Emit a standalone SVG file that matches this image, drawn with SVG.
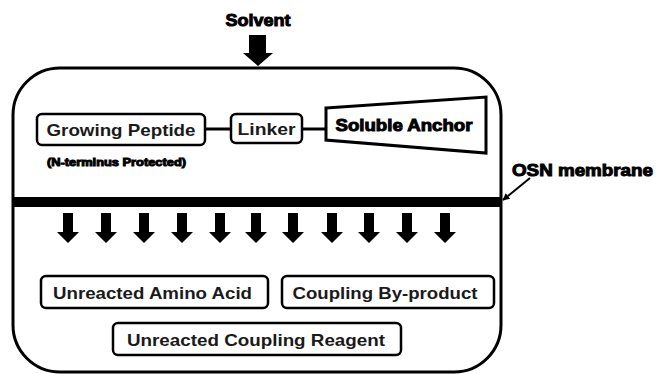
<svg xmlns="http://www.w3.org/2000/svg" width="656" height="374" viewBox="0 0 656 374">
<defs>
<style>
.box{fill:#fff;stroke:#000;stroke-width:2.5}
.lbl{font-family:"Liberation Sans",Arial,sans-serif;font-weight:bold;font-size:16.5px;fill:#1a1a1a}
.heavy{font-family:"Liberation Sans",Arial,sans-serif;font-weight:bold;fill:#000;stroke:#000;stroke-width:1}
.conn{stroke:#000;stroke-width:3;fill:none}
</style>
<marker id="ah" viewBox="0 0 10 10" refX="9" refY="5" markerWidth="7" markerHeight="7" orient="auto" markerUnits="userSpaceOnUse">
<path d="M0,0 L10,5 L0,10 Z" fill="#000"/>
</marker>
<path id="darrow" d="M-5,0 H5 V19 H11 L0,30 L-11,19 H-5 Z"/>
</defs>
<rect width="656" height="374" fill="#fff"/>
<g id="container">
<rect x="13" y="68" width="488" height="304" rx="47" ry="47" fill="#fff" stroke="#000" stroke-width="3"/>
</g>
<g id="solvent">
<text class="heavy" x="258" y="26" font-size="17" text-anchor="middle" textLength="65" lengthAdjust="spacingAndGlyphs">Solvent</text>
<path d="M249,35 H266 V53 H273 L258,66 L243,53 H249 Z" fill="#000"/>
</g>
<g id="membrane">
<rect x="13" y="197" width="488" height="10" fill="#000"/>
</g>
<g id="osn-label">
<text class="heavy" x="512" y="176" font-size="17" textLength="141" lengthAdjust="spacingAndGlyphs">OSN membrane</text>
</g>
<g id="connectors">
<line class="conn" x1="205" y1="129" x2="231" y2="129"/>
<line class="conn" x1="302" y1="129" x2="326" y2="129"/>
<line x1="530" y1="178" x2="503" y2="200" stroke="#000" stroke-width="2" marker-end="url(#ah)"/>
</g>
<g id="growing-peptide">
<rect class="box" x="37" y="114" width="168" height="31" rx="5"/>
<text class="lbl" x="121" y="135.5" text-anchor="middle" textLength="149" lengthAdjust="spacingAndGlyphs">Growing Peptide</text>
<text class="heavy" x="47" y="166" font-size="11" stroke-width="0.6" textLength="139" lengthAdjust="spacingAndGlyphs">(N-terminus Protected)</text>
</g>
<g id="linker">
<rect class="box" x="231" y="114" width="71" height="29" rx="5"/>
<text class="lbl" x="266.5" y="134.5" text-anchor="middle" textLength="58" lengthAdjust="spacingAndGlyphs">Linker</text>
</g>
<g id="soluble-anchor">
<polygon points="326,108 486,97 486,153 326,140" fill="#fff" stroke="#000" stroke-width="3"/>
<text class="heavy" x="404" y="131" font-size="17" text-anchor="middle" textLength="137" lengthAdjust="spacingAndGlyphs">Soluble Anchor</text>
</g>
<g id="flow-arrows">
<use href="#darrow" x="68" y="213"/>
<use href="#darrow" x="106" y="213"/>
<use href="#darrow" x="144" y="213"/>
<use href="#darrow" x="182" y="213"/>
<use href="#darrow" x="220" y="213"/>
<use href="#darrow" x="256" y="213"/>
<use href="#darrow" x="293" y="213"/>
<use href="#darrow" x="332" y="213"/>
<use href="#darrow" x="369" y="213"/>
<use href="#darrow" x="407" y="213"/>
<use href="#darrow" x="445" y="213"/>
</g>
<g id="amino-acid">
<rect class="box" x="41" y="276" width="227" height="32" rx="5"/>
<text class="lbl" x="152.5" y="299" text-anchor="middle" textLength="199" lengthAdjust="spacingAndGlyphs">Unreacted Amino Acid</text>
</g>
<g id="byproduct">
<rect class="box" x="282" y="276" width="212" height="32" rx="5"/>
<text class="lbl" x="385" y="299" text-anchor="middle" textLength="185" lengthAdjust="spacingAndGlyphs">Coupling By-product</text>
</g>
<g id="reagent">
<rect class="box" x="113" y="323" width="288" height="32" rx="5"/>
<text class="lbl" x="256" y="346" text-anchor="middle" textLength="258" lengthAdjust="spacingAndGlyphs">Unreacted Coupling Reagent</text>
</g>
</svg>
